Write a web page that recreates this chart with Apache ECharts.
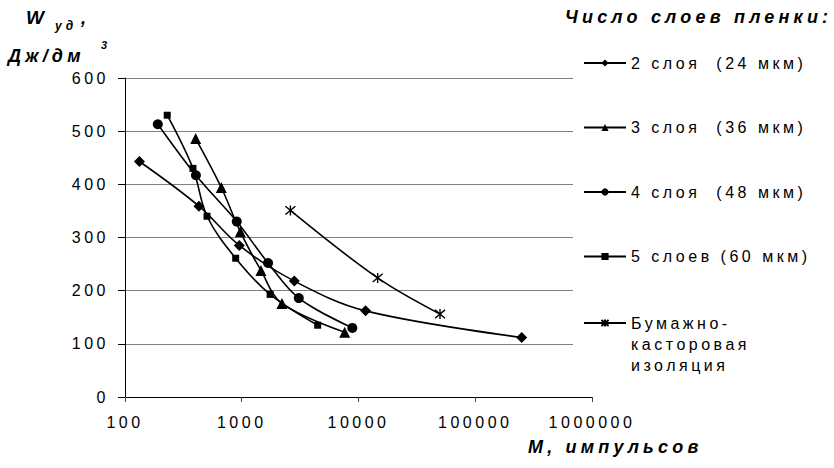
<!DOCTYPE html>
<html>
<head>
<meta charset="utf-8">
<script src="https://cdn.jsdelivr.net/npm/echarts@6/dist/echarts.min.js"></script>
<style>
html, body { margin: 0; padding: 0; background: #fff; }
#chart { width: 834px; height: 468px; }
#chart svg text { letter-spacing: 3.5px; white-space: pre; }
#chart svg text[style*="bold"] { letter-spacing: 4.2px; }
</style>
</head>
<body>
<div id="chart"></div>
<script>
// M, импульсов (x)  /  W уд, Дж/дм3 (y)
const m2 = [133, 430, 953, 2820, 11500, 250000]
const w2 = [443, 359, 285, 218, 162, 112]
const m3 = [403, 668, 972, 1460, 2210, 7620]
const w3 = [486, 394, 311, 238, 176, 122]
const m4 = [191, 405, 906, 1680, 3080, 8850]
const w4 = [513, 417, 330, 252, 186, 130]
const m5 = [230, 382, 504, 887, 1750, 4470]
const w5 = [530, 430, 340, 261, 193, 135]
const mP = [2610, 14600, 49900]
const wP = [351, 224, 156]

const names = ['2 слоя  (24 мкм)', '3 слоя  (36 мкм)', '4 слоя  (48 мкм)', '5 слоев (60 мкм)']
const paperName = 'Бумажно-\nкасторовая\nизоляция'

const font = 'Arial, "Liberation Sans", sans-serif'
const asterisk = 'path://M0,0L10,10M10,0L0,10M5,-1L5,11'

function lineSeries(name, xs, ys, symbol, size, extra) {
  let s = {
    name: name,
    type: 'line',
    data: xs.map((x, i) => [x, ys[i]]),
    symbol: symbol,
    symbolSize: size,
    smooth: 0.35,
    animation: false,
    lineStyle: { color: '#000', width: 1.6 },
    itemStyle: { color: '#000' },
    emphasis: { disabled: true }
  }
  return Object.assign(s, extra || {})
}

// bold italic captions
function caption(text, left, top, size, lh) {
  return {
    text: text, left: left, top: top, padding: 0,
    textStyle: {
      fontFamily: font, fontWeight: 'bold', fontStyle: 'italic', color: '#000',
      fontSize: size, lineHeight: lh || size + 4
    }
  }
}

const chart = echarts.init(document.getElementById('chart'), null, { renderer: 'svg' })

chart.setOption({
  backgroundColor: '#fff',
  animation: false,
  grid: { left: 125, right: 242, top: 78, bottom: 71 },
  title: [
    caption('W', 26, 6, 19, 22),
    caption('уд', 55, 19, 12, 14),
    caption(',', 81, 7, 18, 22),
    caption('Дж/дм', 8, 45, 18, 22),
    caption('3', 101, 38, 11, 14),
    caption('Число слоев пленки:', 565, 6, 18, 22),
    caption('М, импульсов', 528, 436, 18, 22)
  ],
  legend: [
    {
      data: names,
      orient: 'vertical',
      left: 583, top: 53, padding: 0,
      itemWidth: 42, itemHeight: 9, itemGap: 44.5,
      selectedMode: false,
      textStyle: { fontFamily: font, fontSize: 16, lineHeight: 20, color: '#000' }
    },
    {
      data: [paperName],
      orient: 'vertical',
      left: 583, top: 270.5, padding: 0,
      itemWidth: 42, itemHeight: 9,
      selectedMode: false,
      // two blank lines on top keep the first line level with the icon
      formatter: name => '\n\n' + name,
      textStyle: { fontFamily: font, fontSize: 16, lineHeight: 21, color: '#000' }
    }
  ],
  xAxis: {
    type: 'log',
    logBase: 10,
    min: 100,
    max: 1000000,
    interval: 1,
    axisLine: { lineStyle: { color: '#000', width: 1 } },
    axisTick: { show: true, length: 5, lineStyle: { color: '#444' } },
    axisLabel: {
      margin: 17, fontFamily: font, fontSize: 16, color: '#000',
      formatter: v => String(Math.round(v))
    },
    splitLine: { show: false }
  },
  yAxis: {
    type: 'value',
    min: 0,
    max: 600,
    interval: 100,
    axisLine: { show: true, lineStyle: { color: '#000', width: 1 } },
    axisTick: { show: true, length: 7, lineStyle: { color: '#000' } },
    axisLabel: { margin: 16, fontFamily: font, fontSize: 16, color: '#000' },
    splitLine: { lineStyle: { color: '#808080', width: 1 } }
  },
  graphic: [
    // legend area hides the grid lines on the right edge
    { type: 'rect', z: 1, shape: { x: 573, y: 70, width: 19, height: 324 }, style: { fill: '#fff' } }
  ],
  series: [
    lineSeries(names[0], m2, w2, 'diamond', 11),
    lineSeries(names[1], m3, w3, 'triangle', 11),
    lineSeries(names[2], m4, w4, 'circle', 10),
    lineSeries(names[3], m5, w5, 'rect', 7),
    lineSeries(paperName, mP, wP, asterisk, 10, {
      itemStyle: { color: '#000', borderColor: '#000', borderWidth: 1.4 }
    })
  ]
})
</script>
</body>
</html>
